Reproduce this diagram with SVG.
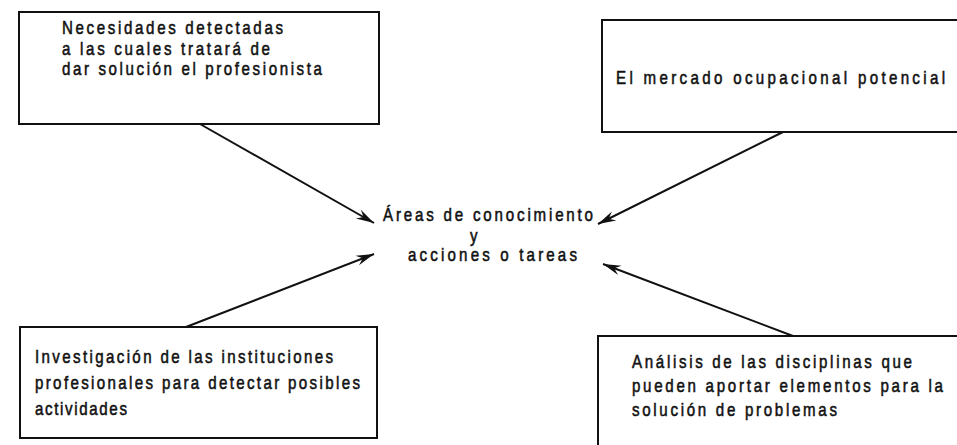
<svg xmlns="http://www.w3.org/2000/svg" width="957" height="445" viewBox="0 0 957 445">
<style>
  .box { fill: #ffffff; stroke: #111111; stroke-width: 2; }
  .t { font-family: "Liberation Sans", Arial, sans-serif; font-size: 18px; fill: #111111; stroke: #111111; stroke-width: 0.55; }
  .conn { stroke: #111111; stroke-width: 2; fill: none; marker-end: url(#arrow); }
</style>
<defs>
  <marker id="arrow" markerUnits="userSpaceOnUse" markerWidth="22" markerHeight="14" viewBox="-19 -7 20 14" refX="0" refY="0" orient="auto">
    <path d="M0,0 L-18,-5 L-12,0 L-18,5 Z" fill="#111111"/>
  </marker>
</defs>
<rect width="957" height="445" fill="#ffffff"/>

<g id="node-necesidades">
  <rect class="box" x="19" y="12" width="360" height="112"/>
  <text class="t" transform="translate(62,34) scale(0.84,1)" textLength="263.1" lengthAdjust="spacing">Necesidades detectadas</text>
  <text class="t" transform="translate(62,54.5) scale(0.84,1)" textLength="247.6" lengthAdjust="spacing">a las cuales tratará de</text>
  <text class="t" transform="translate(62,75) scale(0.84,1)" textLength="309.5" lengthAdjust="spacing">dar solución el profesionista</text>
</g>

<g id="node-mercado">
  <rect class="box" x="602" y="20" width="370" height="112"/>
  <text class="t" transform="translate(616,84) scale(0.84,1)" textLength="391.7" lengthAdjust="spacing">El mercado ocupacional potencial</text>
</g>

<g id="node-investigacion">
  <rect class="box" x="20" y="327" width="357" height="111"/>
  <text class="t" transform="translate(35,363) scale(0.84,1)" textLength="354.8" lengthAdjust="spacing">Investigación de las instituciones</text>
  <text class="t" transform="translate(35,389) scale(0.84,1)" textLength="386.9" lengthAdjust="spacing">profesionales para detectar posibles</text>
  <text class="t" transform="translate(35,415) scale(0.84,1)" textLength="109.5" lengthAdjust="spacing">actividades</text>
</g>

<g id="node-analisis">
  <rect class="box" x="598" y="336" width="374" height="130"/>
  <text class="t" transform="translate(632,368) scale(0.84,1)" textLength="333.3" lengthAdjust="spacing">Análisis de las disciplinas que</text>
  <text class="t" transform="translate(632,392) scale(0.84,1)" textLength="370.2" lengthAdjust="spacing">pueden aportar elementos para la</text>
  <text class="t" transform="translate(632,416) scale(0.84,1)" textLength="244" lengthAdjust="spacing">solución de problemas</text>
</g>

<g id="node-centro">
  <text class="t" transform="translate(383,221) scale(0.84,1)" textLength="250" lengthAdjust="spacing">Áreas de conocimiento</text>
  <text class="t" transform="translate(470,241.5) scale(0.84,1)">y</text>
  <text class="t" transform="translate(408,261) scale(0.84,1)" textLength="201.2" lengthAdjust="spacing">acciones o tareas</text>
</g>

<g id="connectors">
  <line class="conn" x1="200" y1="124" x2="374" y2="223"/>
  <line class="conn" x1="783" y1="132" x2="598" y2="224"/>
  <line class="conn" x1="186" y1="327" x2="374" y2="254"/>
  <line class="conn" x1="793" y1="336" x2="603" y2="264"/>
</g>
</svg>
